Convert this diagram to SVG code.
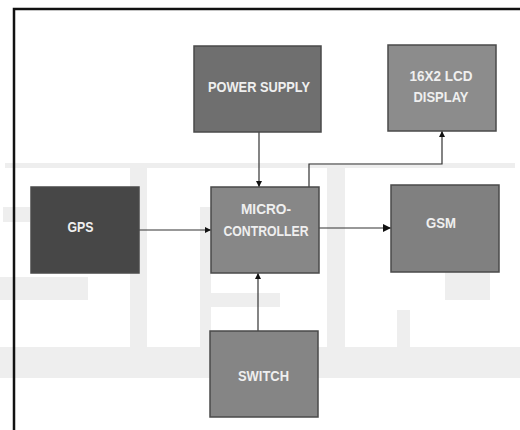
<svg xmlns="http://www.w3.org/2000/svg" width="520" height="430" viewBox="0 0 520 430">
  <defs>
    <marker id="ah" viewBox="0 0 10 10" refX="10" refY="5" markerWidth="6" markerHeight="6" markerUnits="userSpaceOnUse" orient="auto">
      <path d="M0,0 L10,5 L0,10 z" fill="#111"/>
    </marker>
    <marker id="ahb" viewBox="0 0 10 10" refX="10" refY="5" markerWidth="8" markerHeight="8" markerUnits="userSpaceOnUse" orient="auto">
      <path d="M0,0 L10,5 L0,10 z" fill="#111"/>
    </marker>
  </defs>
  <style>
    .box { stroke: #4a4a4a; stroke-width: 1.5; }
    .lbl { font-family: "Liberation Sans", Arial, sans-serif; font-weight: bold; font-size: 15.5px; fill: #efefef; text-anchor: middle; }
    .wm { fill: #eeeeee; }
    .conn { fill: none; stroke: #333; stroke-width: 1.2; }
  </style>
  <rect width="520" height="430" fill="#ffffff"/>
  <g id="watermark">
    <rect class="wm" x="5" y="163" width="510" height="5"/>
    <rect class="wm" x="3" y="207" width="27" height="15"/>
    <rect class="wm" x="0" y="277" width="88" height="23"/>
    <rect class="wm" x="130" y="163" width="17" height="185"/>
    <rect class="wm" x="200" y="207" width="11" height="140"/>
    <rect class="wm" x="200" y="293" width="80" height="14"/>
    <rect class="wm" x="327" y="163" width="18" height="185"/>
    <rect class="wm" x="397" y="310" width="13" height="38"/>
    <rect class="wm" x="445" y="272" width="45" height="28"/>
    <rect class="wm" x="0" y="347" width="520" height="31"/>
  </g>
  <path d="M14,430 V9 H520" fill="none" stroke="#111" stroke-width="2.5"/>
  <g id="connectors">
    <line class="conn" x1="259" y1="132" x2="259" y2="187" marker-end="url(#ah)"/>
    <line class="conn" x1="258" y1="331" x2="258" y2="273" marker-end="url(#ah)"/>
    <polyline class="conn" points="309,187 309,164 442,164 442,131" stroke="#555" marker-end="url(#ah)"/>
    <line class="conn" x1="139" y1="230" x2="211" y2="230" marker-end="url(#ah)"/>
    <line class="conn" x1="319" y1="228" x2="391" y2="228" marker-end="url(#ahb)"/>
  </g>
  <g id="power-supply">
    <rect class="box" x="194" y="46" width="127" height="86" fill="#6f6f6f"/>
    <text class="lbl" x="259" y="92" textLength="102" lengthAdjust="spacingAndGlyphs">POWER SUPPLY</text>
  </g>
  <g id="lcd-display">
    <rect class="box" x="388" y="45" width="108" height="86" fill="#8c8c8c"/>
    <text class="lbl" x="441" y="81" textLength="63" lengthAdjust="spacingAndGlyphs">16X2 LCD</text>
    <text class="lbl" x="441" y="102" textLength="55" lengthAdjust="spacingAndGlyphs">DISPLAY</text>
  </g>
  <g id="gps">
    <rect class="box" x="31" y="187" width="108" height="86" fill="#474747"/>
    <text class="lbl" x="80.5" y="232" textLength="26" lengthAdjust="spacingAndGlyphs">GPS</text>
  </g>
  <g id="microcontroller">
    <rect class="box" x="211" y="187" width="108" height="86" fill="#878787"/>
    <text class="lbl" x="266" y="214" textLength="50" lengthAdjust="spacingAndGlyphs">MICRO-</text>
    <text class="lbl" x="266" y="236" textLength="85" lengthAdjust="spacingAndGlyphs">CONTROLLER</text>
  </g>
  <g id="gsm">
    <rect class="box" x="391" y="185" width="108" height="87" fill="#808080"/>
    <text class="lbl" x="441" y="228" textLength="30" lengthAdjust="spacingAndGlyphs">GSM</text>
  </g>
  <g id="switch">
    <rect class="box" x="210" y="331" width="108" height="86" fill="#858585"/>
    <text class="lbl" x="263.5" y="381" textLength="51" lengthAdjust="spacingAndGlyphs">SWITCH</text>
  </g>
</svg>
